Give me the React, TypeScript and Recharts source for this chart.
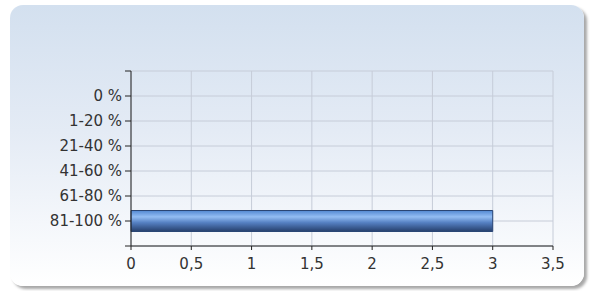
import React from 'react';
import { BarChart, Bar, XAxis, YAxis, CartesianGrid } from 'recharts';

const categories = ['0 %', '1-20 %', '21-40 %', '41-60 %', '61-80 %', '81-100 %'];
const values = [0, 0, 0, 0, 0, 3];
const xTicks = [0, 0.5, 1, 1.5, 2, 2.5, 3, 3.5];
const yTicks = [0, 1, 2, 3, 4, 5, 6, 7];

const data = categories.map((c, i) => ({ pos: i + 1, label: c, value: values[i] }));

const font = { fontFamily: 'DejaVu Sans, Verdana, sans-serif', fontSize: 15, fill: '#333333' };

export default function App() {
  return (
    <div style={{ position: 'absolute', left: 0, top: 0, width: 592, height: 291, background: '#ffffff' }}>
      <div
        style={{
          position: 'absolute',
          left: 10,
          top: 5,
          width: 574,
          height: 281,
          borderRadius: 13,
          background: 'linear-gradient(180deg, #d3e0ef 0%, #e4ebf5 45%, #ffffff 100%)',
          boxShadow: '3px 3px 3px rgba(0,0,0,0.35)',
        }}
      />
      <div style={{ position: 'absolute', left: 0, top: 0 }}>
        <BarChart
          width={592}
          height={291}
          data={data}
          layout="vertical"
          margin={{ top: 71, right: 39, bottom: 15, left: 0 }}
        >
          <defs>
            <linearGradient id="barGrad" x1="0" y1="0" x2="0" y2="1">
              <stop offset="0%" stopColor="#5288d2" />
              <stop offset="30%" stopColor="#93bdf3" />
              <stop offset="58%" stopColor="#5580c2" />
              <stop offset="100%" stopColor="#263f6c" />
            </linearGradient>
          </defs>
          <CartesianGrid stroke="#c6ccd8" strokeWidth={1} />
          <XAxis
            type="number"
            dataKey="value"
            domain={[0, 3.5]}
            ticks={xTicks}
            interval={0}
            height={30}
            tickSize={4}
            tickMargin={8}
            stroke="#222"
            tick={font}
            tickFormatter={(v: number) => String(v).replace('.', ',')}
          />
          <YAxis
            type="number"
            dataKey="pos"
            domain={[0, 7]}
            ticks={yTicks}
            interval={0}
            width={131}
            tickSize={6}
            tickMargin={3}
            stroke="#222"
            tick={font}
            tickFormatter={(v: number) => (v >= 1 && v <= 6 ? categories[v - 1] : '')}
          />
          <Bar
            dataKey="value"
            barSize={21}
            fill="url(#barGrad)"
            stroke="#2a4675"
            strokeWidth={1}
            isAnimationActive={false}
          />
        </BarChart>
      </div>
    </div>
  );
}
